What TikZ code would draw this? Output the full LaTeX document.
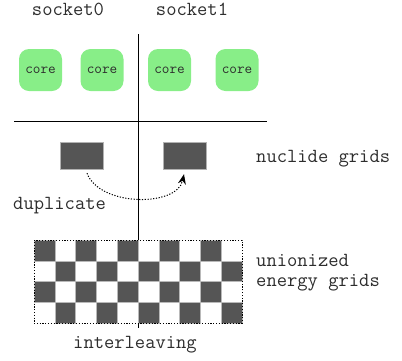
\documentclass[tikz,border=0pt]{standalone}
\usepackage{fontspec}
\usetikzlibrary{arrows.meta}
\definecolor{coregreen}{RGB}{136,238,136}
\definecolor{griddark}{RGB}{85,85,85}
\definecolor{txt}{RGB}{45,45,45}
\begin{document}
\begin{tikzpicture}[x=1pt,y=-1pt,
  lbl/.style={font=\ttfamily\fontsize{20}{22}\selectfont, text=txt, inner sep=0pt, anchor=base west},
  sock/.style={font=\ttfamily\fontsize{20}{22}\selectfont, text=txt, inner sep=0pt, anchor=base},
  corebox/.style={fill=coregreen, rounded corners=10pt, minimum width=43pt, minimum height=42pt, inner sep=0pt, font=\ttfamily\fontsize{14.8}{16}\selectfont, text=txt},
  gridbox/.style={fill=griddark, draw=gray!60, line width=0.4pt, minimum width=43pt, minimum height=27pt, inner sep=0pt},
  sepline/.style={line width=1pt, black},
  cell/.style={fill=griddark, draw=gray!55, line width=0.3pt},
  dots/.style={dash pattern=on 1.2pt off 1.6pt, line width=1pt},
]
\useasboundingbox (0,0) rectangle (402,360);
% separators
\coordinate (vt) at (138,34);
\coordinate (vb) at (138,328);
\coordinate (hl) at (14,121);
\coordinate (hr) at (267,121);
\draw[sepline] (vt) -- (vb);
\draw[sepline] (hl) -- (hr);
% socket labels
\node[sock] (s0) at (68,15) {socket0};
\node[sock] (s1) at (192,15) {socket1};
% cores
\node[corebox] (c1) at (40.5,70) {core};
\node[corebox] (c2) at (102,70) {core};
\node[corebox] (c3) at (169.5,70) {core};
\node[corebox] (c4) at (237,70) {core};
% nuclide grids
\node[gridbox] (g1) at (81.5,155.5) {};
\node[gridbox] (g2) at (184.5,155.5) {};
\node[lbl] (ng) at (256,162) {nuclide grids};
% duplicate arrow
\draw[dots, -{Stealth[length=10pt,width=8pt]}]
  ([shift={(5.5,4)}]g1.south) .. controls (100,207) and (177,207) .. ([shift={(-0.5,5)}]g2.south);
\node[lbl] (dup) at (13,209) {duplicate};
% unionized energy grid (checkerboard)
\foreach \i in {0,...,9} {
  \foreach \j in {0,...,3} {
    \pgfmathtruncatemacro\parity{mod(\i+\j,2)}
    \ifnum\parity=0
      \path[cell] (34+\i*20.8, 240+\j*20.8) rectangle ++(20.8,20.8);
    \fi
  }
}
\node[draw, dots, minimum width=208pt, minimum height=83.2pt, inner sep=0pt] (ueg) at (138,281.6) {};
\node[lbl] (u1) at (256,266) {unionized};
\node[lbl] (u2) at (256,286.5) {energy grids};
\node[lbl] (il) at (73,348) {interleaving};
\end{tikzpicture}
\end{document}
